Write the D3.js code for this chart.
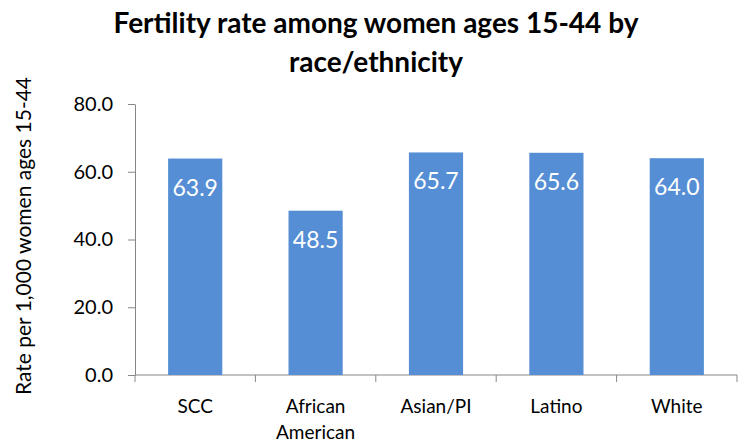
<!DOCTYPE html>
<html><head><meta charset="utf-8">
<script src="https://cdn.jsdelivr.net/npm/d3@7"></script>
<style>body{margin:0;background:#fff}svg{display:block}text{font-family:Lato,"Open Sans",sans-serif}</style>
</head><body><svg id="c" width="739" height="445"></svg>
<script>
const categories = [["SCC"], ["African", "American"], ["Asian/PI"], ["Latino"], ["White"]];
const values = [63.9, 48.5, 65.7, 65.6, 64.0];
const yTicks = [0, 20, 40, 60, 80];
const titleLines = ["Fertility rate among women ages 15-44 by", "race/ethnicity"];
const yTitle = "Rate per 1,000 women ages 15-44";

const svg = d3.select("#c");
const m = {l:135, r:2, t:104, b:70};
const x = d3.scaleBand().domain(categories.map((d,i)=>i)).range([m.l, 737]).paddingInner(0.55).paddingOuter(0.275);
const y = d3.scaleLinear().domain([0,80]).range([375, 104]);
const axisColor = "#868686";

// title
svg.append("text").attr("text-anchor","middle")
  .attr("font-size", 28).attr("font-weight", "bold").attr("fill","#000")
  .selectAll("tspan").data(titleLines).join("tspan")
  .attr("x", 376).attr("y", (d,i)=> i? 72 : 33).text(d=>d);

// y axis
const ya = svg.append("g").attr("transform", `translate(${m.l},0)`)
  .call(d3.axisLeft(y).tickValues(yTicks).tickFormat(d3.format(".1f")).tickSize(7).tickSizeOuter(0));
ya.select(".domain").attr("stroke", axisColor);
ya.selectAll(".tick line").attr("stroke", axisColor);
ya.selectAll(".tick text").attr("font-size", 20).attr("fill","#000").attr("x",-22).attr("font-family","Lato,'Open Sans',sans-serif");

// x axis
const xa = svg.append("g").attr("transform", `translate(0,375)`);
xa.append("line").attr("x1", m.l).attr("x2", 737).attr("y1",0).attr("y2",0).attr("stroke", axisColor);
const bounds = d3.range(categories.length+1).map(i => m.l + i*(737-m.l)/categories.length);
xa.selectAll("line.t").data(bounds).join("line").attr("class","t")
  .attr("x1",d=>d).attr("x2",d=>d).attr("y1",0).attr("y2",7).attr("stroke", axisColor);
xa.selectAll("text.lab").data(categories).join("text").attr("class","lab")
  .attr("text-anchor","middle").attr("font-size",19).attr("fill","#000")
  .each(function(d,i){
    d3.select(this).selectAll("tspan").data(d).join("tspan")
      .attr("x", x(i)+x.bandwidth()/2).attr("y",(t,j)=>38+j*26).text(t=>t);
  });

// bars
svg.selectAll("rect.bar").data(values).join("rect").attr("class","bar")
  .attr("x",(d,i)=>x(i)).attr("width",x.bandwidth())
  .attr("y",d=>y(d)).attr("height",d=>y(0)-y(d)).attr("fill","#558ED5");

svg.selectAll("text.val").data(values).join("text").attr("class","val")
  .attr("x",(d,i)=>x(i)+x.bandwidth()/2).attr("y",d=>y(d)+37)
  .attr("text-anchor","middle").attr("font-size",23).attr("fill","#fff")
  .text(d=>d3.format(".1f")(d));

// y title
svg.append("text").attr("transform","translate(31,236) rotate(-90)")
  .attr("text-anchor","middle").attr("font-size",21).attr("fill","#000").text(yTitle);
</script></body></html>
